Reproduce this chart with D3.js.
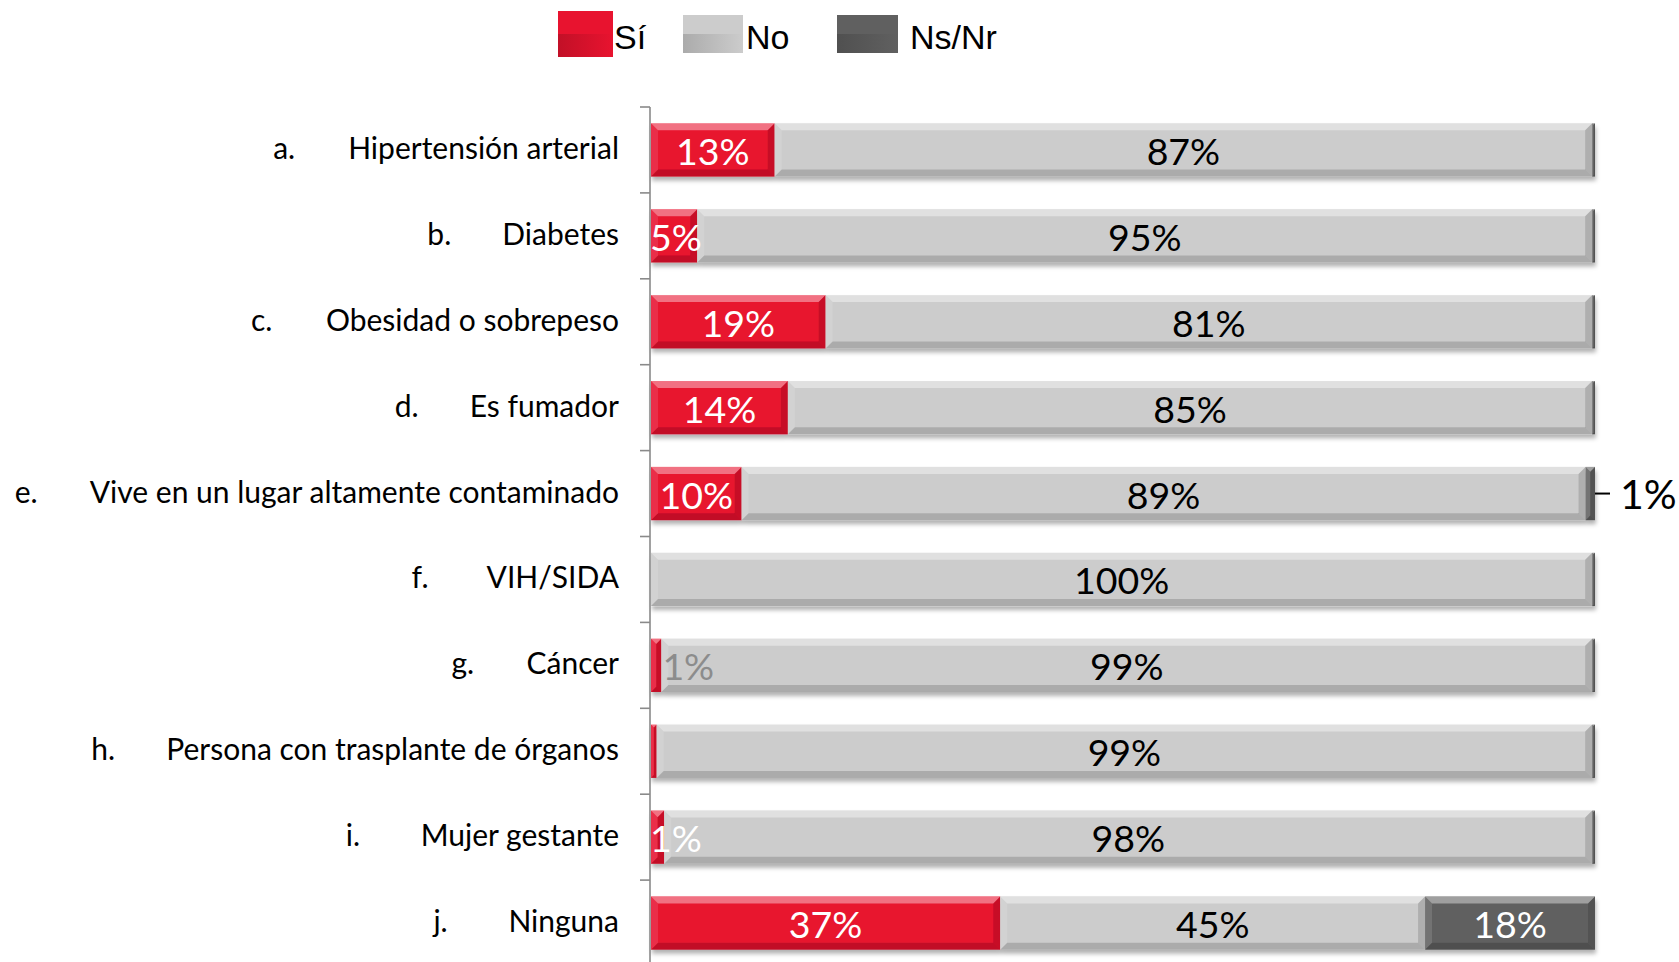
<!DOCTYPE html>
<html>
<head>
<meta charset="utf-8">
<script src="https://cdn.jsdelivr.net/npm/d3@7"></script>
<style>
  html, body { margin: 0; padding: 0; background: #fff; }
  svg { display: block; }
</style>
</head>
<body>
<script>
(function(window){
    'use strict'

    // ---- data ----
    var letters = ["a.", "b.", "c.", "d.", "e.", "f.", "g.", "h.", "i.", "j."];
    var names = ["Hipertensión arterial", "Diabetes", "Obesidad o sobrepeso", "Es fumador",
        "Vive en un lugar altamente contaminado", "VIH/SIDA", "Cáncer",
        "Persona con trasplante de órganos", "Mujer gestante", "Ninguna"];
    var si = [13.1, 4.9, 18.5, 14.5, 9.6, 0, 1.1, 0.6, 1.4, 37];
    var no = [86.6, 94.8, 81.2, 85.2, 89.4, 99.7, 98.6, 99.1, 98.3, 45];
    var nsnr = [0.3, 0.3, 0.3, 0.3, 1.0, 0.3, 0.3, 0.3, 0.3, 18];
    var siLabels = ["13%", "5%", "19%", "14%", "10%", "", "1%", "", "1%", "37%"];
    var noLabels = ["87%", "95%", "81%", "85%", "89%", "100%", "99%", "99%", "98%", "45%"];
    var nsLabels = ["", "", "", "", "1%", "", "", "", "", "18%"];
    var seriesNames = ["Sí", "No", "Ns/Nr"];
    var colors = ["#E8132F", "#CCCCCC", "#606060"];

    var W = 1679, H = 962;
    var labelFont = "Lato, 'Open Sans', sans-serif";

    var svg = d3.select("body").append("svg")
        .attr("width", W)
        .attr("height", H);

    var defs = svg.append("defs");
    defs.append("filter").attr("id", "shadow")
        .attr("x", "-5%").attr("y", "-20%").attr("width", "110%").attr("height", "160%")
      .append("feDropShadow")
        .attr("dx", 1).attr("dy", 4).attr("stdDeviation", 2.2)
        .attr("flood-color", "#000").attr("flood-opacity", 0.3);

    // legend swatch gradients (flat top half, shaded bottom half)
    colors.forEach(function(c, i) {
        var g = defs.append("linearGradient").attr("id", "lg" + i)
            .attr("x1", 0).attr("x2", 1).attr("y1", 0).attr("y2", 0);
        g.append("stop").attr("offset", 0).attr("stop-color", d3.color(c).darker(0.5));
        g.append("stop").attr("offset", 1).attr("stop-color", c);
    });

    var y = d3.scaleBand()
        .domain(letters)
        .range([107, 107 + 859])
        .paddingInner(0.38)
        .paddingOuter(0.19);

    var x = d3.scaleLinear().domain([0, 100]).range([651, 1595]);

    // ---- rows ----
    var rows = letters.map(function(l, i) {
        return {letter: l, name: names[i], vals: [si[i], no[i], nsnr[i]],
            labels: [siLabels[i], noLabels[i], nsLabels[i]]};
    });

    function bevel(g, x0, y0, w, h, b) {
        b = Math.min(b, w / 2);
        var faces = [
            [[x0, y0], [x0 + w, y0], [x0 + w - b, y0 + b], [x0 + b, y0 + b], "#fff", 0.4],
            [[x0, y0], [x0 + b, y0 + b], [x0 + b, y0 + h - b], [x0, y0 + h], "#fff", 0.12],
            [[x0, y0 + h], [x0 + b, y0 + h - b], [x0 + w - b, y0 + h - b], [x0 + w, y0 + h], "#000", 0.16],
            [[x0 + w, y0], [x0 + w, y0 + h], [x0 + w - b, y0 + h - b], [x0 + w - b, y0 + b], "#000", 0.14]
        ];
        faces.forEach(function(f) {
            g.append("polygon")
                .attr("points", f.slice(0, 4).map(function(p) { return p.join(","); }).join(" "))
                .attr("fill", f[4]).attr("fill-opacity", f[5]);
        });
    }

    var barH = y.bandwidth();

    rows.forEach(function(r) {
        var y0 = y(r.letter);
        var g = svg.append("g").attr("filter", "url(#shadow)");
        var acc = 0;
        r.vals.forEach(function(v, k) {
            if (v <= 0) return;
            var x0 = x(acc), x1 = x(acc + v);
            acc += v;
            g.append("rect")
                .attr("x", x0).attr("y", y0)
                .attr("width", x1 - x0).attr("height", barH)
                .attr("fill", colors[k]);
            bevel(g, x0, y0, x1 - x0, barH, 7);
        });
    });

    // ---- data labels ----
    var cy = function(l) { return y(l) + barH / 2 + 15; };
    rows.forEach(function(r, i) {
        var acc = 0;
        r.vals.forEach(function(v, k) {
            var x0 = x(acc), x1 = x(acc + v);
            acc += v;
            var txt = r.labels[k];
            if (!txt) return;
            var t = svg.append("text")
                .attr("y", cy(r.letter))
                .style("font-family", labelFont)
                .style("font-size", "37.5px")
                .text(txt);
            var tw = t.node().getComputedTextLength();
            if (k === 0) {
                if (r.letter === "g.") {
                    t.attr("x", x1 + 1).attr("fill", "#8C8C8C");
                } else {
                    t.attr("x", Math.max((x0 + x1) / 2, x0 + tw / 2 - 1))
                        .attr("text-anchor", "middle").attr("fill", "#fff");
                }
            } else if (k === 1) {
                t.attr("x", (x0 + x1) / 2).attr("text-anchor", "middle").attr("fill", "#000");
            } else {
                if (x1 - x0 < tw) {
                    svg.append("line")
                        .attr("x1", x1).attr("x2", x1 + 15)
                        .attr("y1", y(r.letter) + barH / 2).attr("y2", y(r.letter) + barH / 2)
                        .attr("stroke", "#000").attr("stroke-width", 2);
                    t.attr("x", x1 + 25).attr("fill", "#000").style("font-size", "41px");
                } else {
                    t.attr("x", (x0 + x1) / 2).attr("text-anchor", "middle").attr("fill", "#fff");
                }
            }
        });
    });

    // ---- axis ----
    var axisX = 650;
    var ax = svg.append("g").attr("stroke", "#8A8A8A").attr("stroke-width", 1.6);
    ax.append("line").attr("x1", axisX).attr("x2", axisX).attr("y1", y.range()[0]).attr("y2", H);
    letters.forEach(function(l) {
        var ty = y(l) - y.step() * y.paddingInner() / 2;
        ax.append("line").attr("x1", axisX - 10).attr("x2", axisX).attr("y1", ty).attr("y2", ty);
    });

    // ---- category labels ----
    rows.forEach(function(r) {
        var ly = y(r.letter) + barH / 2 + 9;
        var t = svg.append("text")
            .attr("x", 619).attr("y", ly)
            .attr("text-anchor", "end")
            .style("font-family", labelFont)
            .style("font-size", "30px")
            .attr("fill", "#000")
            .text(r.name);
        var tw = t.node().getComputedTextLength();
        svg.append("text")
            .attr("x", 619 - tw - 75).attr("y", ly)
            .style("font-family", labelFont)
            .style("font-size", "30px")
            .attr("fill", "#000")
            .text(r.letter);
    });

    // ---- legend ----
    var legendItems = [
        {sx: 558, sy: 11, sw: 55, sh: 46, tx: 614},
        {sx: 683, sy: 15, sw: 60, sh: 38, tx: 746},
        {sx: 837, sy: 15, sw: 61, sh: 38, tx: 910}
    ];
    var lg = svg.append("g");
    legendItems.forEach(function(it, i) {
        lg.append("rect").attr("x", it.sx).attr("y", it.sy)
            .attr("width", it.sw).attr("height", it.sh / 2)
            .attr("fill", colors[i]);
        lg.append("rect").attr("x", it.sx).attr("y", it.sy + it.sh / 2)
            .attr("width", it.sw).attr("height", it.sh / 2)
            .attr("fill", "url(#lg" + i + ")");
        lg.append("text").attr("x", it.tx).attr("y", 49)
            .style("font-family", "'Liberation Sans', Arial, sans-serif")
            .style("font-size", "34px")
            .attr("fill", "#000")
            .text(seriesNames[i]);
    });

})(window);
</script>
</body>
</html>
